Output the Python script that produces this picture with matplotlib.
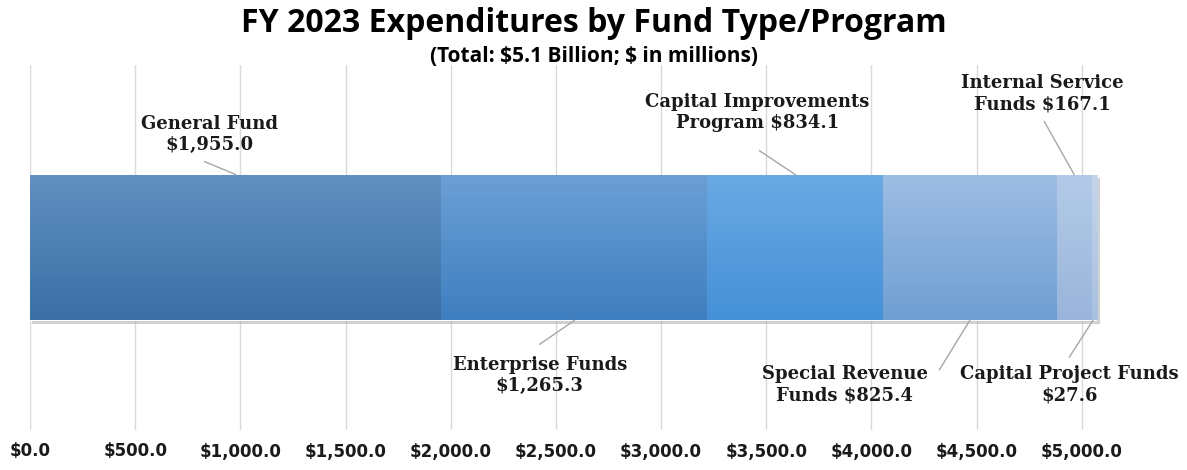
import numpy as np
import matplotlib
matplotlib.use("Agg")
import matplotlib.pyplot as plt
from matplotlib import patheffects as pe
from matplotlib.colors import LinearSegmentedColormap

# Dados (em milhões de $)
categorias = ["General Fund", "Enterprise Funds", "Capital Improvements Program",
              "Special Revenue Funds", "Internal Service Funds", "Capital Project Funds"]
valores = [1955.0, 1265.3, 834.1, 825.4, 167.1, 27.6]
rotulos = ["General Fund\n$1,955.0", "Enterprise Funds\n$1,265.3",
           "Capital Improvements\nProgram $834.1", "Special Revenue\nFunds $825.4",
           "Internal Service\nFunds $167.1", "Capital Project Funds\n$27.6"]
ticks = [0, 500, 1000, 1500, 2000, 2500, 3000, 3500, 4000, 4500, 5000]

# cores (topo, base) de cada segmento
cores = [("#6190c0", "#3b70a6"), ("#6b9fd5", "#3f7fc0"), ("#6aaae4", "#4590d6"),
         ("#9dbde3", "#709fd3"), ("#b3cbe8", "#9ab5db"), ("#c4d6ec", "#a8c0e0")]

# posição dos rótulos (x do texto, y do texto, x/y do início da linha)
pos_texto = [(855, 0.62, 831, 0.47), (2423, -0.70, 2423, -0.53), (3458, 0.74, 3468, 0.53),
             (3872, -0.75, 4323, -0.67), (4812, 0.84, 4822, 0.69), (4941, -0.75, 4941, -0.60)]

fig = plt.figure(figsize=(11.87, 4.7), dpi=100)
ax = fig.add_axes([30 / 1187, 1 - 430 / 470, 1157 / 1187, 365 / 470])

altura = 0.8
inicio = np.concatenate([[0], np.cumsum(valores)[:-1]])
barras = ax.barh([0] * len(valores), valores, left=inicio, height=altura, color="none",
                 edgecolor="none", zorder=3)

grad = np.linspace(0, 1, 100).reshape(-1, 1)
for b, (c_top, c_bot), x0, v in zip(barras, cores, inicio, valores):
    cmap = LinearSegmentedColormap.from_list("g", [c_top, c_bot])
    im = ax.imshow(grad, cmap=cmap, aspect="auto", extent=[x0, x0 + v, -altura / 2, altura / 2],
                   origin="upper", zorder=3, interpolation="bicubic")
    im.set_clip_path(b)

# sombra suave da barra
sombra = plt.Rectangle((0, -altura / 2), sum(valores), altura, facecolor="white",
                       edgecolor="none", zorder=2)
sombra.set_path_effects([pe.SimplePatchShadow(offset=(1.5, -2.5), shadow_rgbFace="#9a9a9a",
                                              alpha=0.45), pe.Normal()])
ax.add_patch(sombra)

fonte_rot = dict(family="DejaVu Serif", fontweight="bold", fontsize=13, color="#1a1a1a")
for i, (tx, ty, lx, ly) in enumerate(pos_texto):
    meio = inicio[i] + valores[i] / 2
    yb = altura / 2 if ty > 0 else -altura / 2
    if i == 5:
        meio = inicio[i] + valores[i] * 0.2
    ax.text(tx, ty, rotulos[i], ha="center", va="center", linespacing=1.25, **fonte_rot, zorder=5)
    ax.plot([lx, meio], [ly, yb], color="#a6a6a6", lw=1.0, zorder=4)

ax.set_xlim(0, 5500)
ax.set_ylim(-1, 1)
ax.set_xticks(ticks)
ax.set_xticklabels([f"${t:,.1f}" for t in ticks], fontsize=12, fontweight="bold",
                   family="DejaVu Sans", color="#1a1a1a")
ax.tick_params(axis="x", length=0, pad=9)
ax.set_yticks([])
ax.grid(axis="x", color="#d9d9d9", lw=1, zorder=0)
for s in ax.spines.values():
    s.set_visible(False)

fig.text(0.5, 1 - 24 / 470, "FY 2023 Expenditures by Fund Type/Program", ha="center", va="center",
         fontsize=23, fontweight="bold", family=["Liberation Sans Narrow", "Open Sans"])
fig.text(0.5, 1 - 57 / 470, r"(Total: \$5.1 Billion; \$ in millions)", ha="center", va="center",
         fontsize=15, fontweight="bold", family=["Liberation Sans Narrow", "Open Sans"])

fig.savefig("out.png", dpi=100)
